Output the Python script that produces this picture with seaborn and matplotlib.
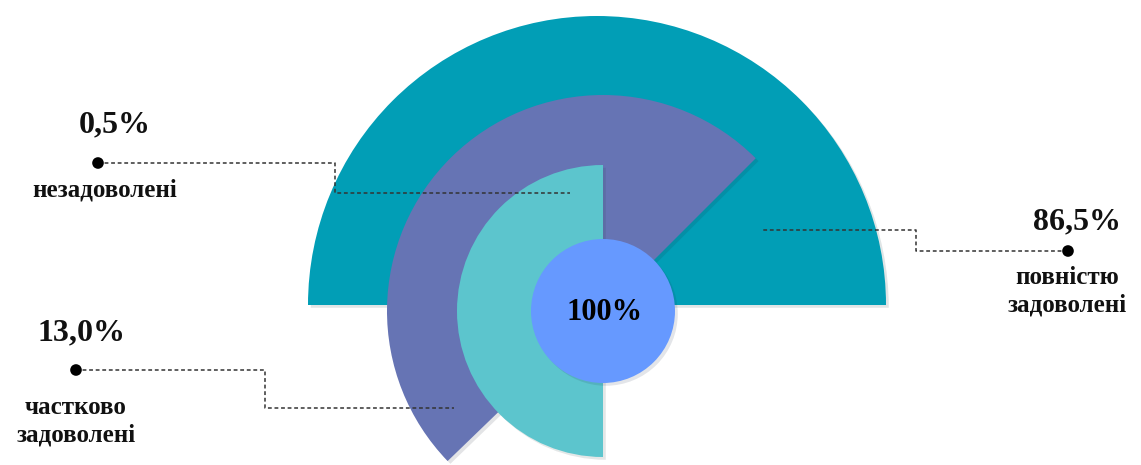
import matplotlib
matplotlib.use("Agg")
import matplotlib.pyplot as plt
import matplotlib.patheffects as pe
from matplotlib.patches import Wedge, Circle
import pandas as pd
import seaborn as sns

# data
categories = ["повністю\nзадоволені", "частково\nзадоволені", "незадоволені"]
values = [86.5, 13.0, 0.5]
total_label = "100%"

# layout (pixel-like coords, y up)
colors = ["#019EB6", "#6674B4", "#5CC5CD"]
centers = [(597, 160), (603, 154), (603, 154)]
radii = [289, 216, 146]
angles = [(0, 180), (45, 224), (90, 270)]
value_pos = [(1077, 243), (82, 132), (115, 340)]
label_pos = [(1067, 174), (76, 44), (105, 275)]
leaders = [
    [(1068, 214), (916, 214), (916, 235), (763, 235)],
    [(76, 95), (265, 95), (265, 57), (454, 57)],
    [(98, 302), (335, 302), (335, 272), (570, 272)],
]

sns.set_theme(style="white")
plt.rcParams["font.family"] = ["Liberation Serif", "DejaVu Serif"]

fig = plt.figure(figsize=(11.41, 4.65), dpi=100)
ax = fig.add_axes([0, 0, 1, 1])
ax.set_xlim(0, 1141)
ax.set_ylim(0, 465)
ax.set_aspect("equal")
ax.axis("off")

shadow = [pe.SimplePatchShadow(offset=(2, -2), alpha=0.12), pe.Normal()]
for c, r, (t1, t2), col in zip(centers, radii, angles, colors):
    w = Wedge(c, r, t1, t2, facecolor=col, edgecolor="none")
    w.set_path_effects(shadow)
    ax.add_patch(w)

core = Circle((603, 154), 72, facecolor="#6699FF", edgecolor="none")
core.set_path_effects(shadow)
ax.add_patch(core)
ax.text(605, 152, total_label, ha="center", va="center", fontsize=22,
        fontweight="bold", color="black")

for pts in leaders:
    xs, ys = zip(*pts)
    ax.plot(xs, ys, color="#333333", lw=1.1, ls=(0, (2.5, 1.8)), zorder=5)

dots = pd.DataFrame({"x": [p[0][0] for p in leaders], "y": [p[0][1] for p in leaders]})
sns.scatterplot(data=dots, x="x", y="y", ax=ax, color="black", s=70,
                edgecolor="none", zorder=6, legend=False)

for cat, v, vp, lp in zip(categories, values, value_pos, label_pos):
    ax.text(vp[0], vp[1], f"{v:.1f}".replace(".", ",") + "%", ha="center",
            va="center", fontsize=23, fontweight="bold", color="#111111")
    ax.text(lp[0], lp[1], cat, ha="center", va="center", fontsize=18,
            fontweight="bold", color="#111111", linespacing=1.25)

ax.set_xlim(0, 1141)
ax.set_ylim(0, 465)
ax.axis("off")
fig.savefig("out.png", dpi=100)
